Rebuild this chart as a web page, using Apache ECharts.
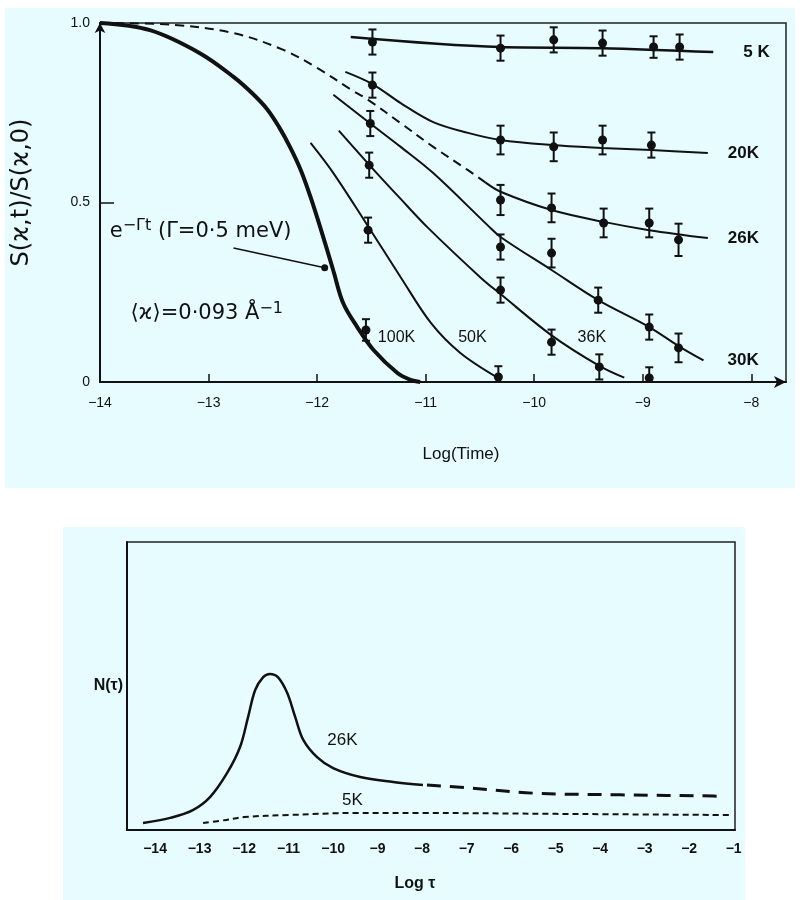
<!DOCTYPE html>
<html>
<head>
<meta charset="utf-8">
<style>
  html, body { margin: 0; background: #fff; }
  #chart { width: 800px; height: 900px; }
</style>
<script src="https://cdn.jsdelivr.net/npm/echarts@6/dist/echarts.min.js"></script>
</head>
<body>
<div id="chart"></div>
<script>
// ---- top panel: S(k,t)/S(k,0) against log(time) ----
const topXTicks = [-14, -13, -12, -11, -10, -9, -8]
const topYTicks = [0, 0.5, 1]

// fitted curves [logt, S]
const fit100K = [[-14, 1.0], [-13.54, 0.98], [-13.08, 0.916], [-12.77, 0.85], [-12.6, 0.805], [-12.46, 0.76],
  [-12.35, 0.71], [-12.25, 0.655], [-12.15, 0.59], [-12.06, 0.515], [-11.97, 0.43], [-11.85, 0.31],
  [-11.76, 0.22], [-11.63, 0.153], [-11.48, 0.089], [-11.26, 0.025], [-11.14, 0.006], [-11.05, 0.0]]
const fit50K = [[-12.06, 0.666], [-11.85, 0.582], [-11.55, 0.443], [-11.23, 0.292], [-10.95, 0.164],
  [-10.68, 0.081], [-10.33, 0.011]]
const fit36K = [[-11.8, 0.7], [-11.52, 0.605], [-11.23, 0.51], [-10.98, 0.43], [-10.49, 0.29],
  [-10.31, 0.245], [-9.84, 0.13], [-9.4, 0.045], [-9.17, 0.012]]
const fit30K = [[-11.85, 0.8], [-11.51, 0.72], [-11.23, 0.655], [-10.93, 0.582], [-10.43, 0.437],
  [-10.31, 0.404], [-9.84, 0.312], [-9.41, 0.228], [-8.94, 0.153], [-8.67, 0.1], [-8.44, 0.06]]
const fit26KDashed = [[-14, 1.0], [-13.33, 0.995], [-12.77, 0.972], [-12.31, 0.925], [-12.0, 0.875],
  [-11.69, 0.815], [-11.53, 0.786], [-11.23, 0.721], [-10.93, 0.655], [-10.61, 0.59], [-10.45, 0.556]]
const fit26K = [[-10.45, 0.556], [-10.31, 0.53], [-9.84, 0.479], [-9.36, 0.446], [-8.94, 0.423], [-8.4, 0.401]]
const fit20K = [[-11.74, 0.864], [-11.49, 0.83], [-11.23, 0.777], [-10.93, 0.724], [-10.61, 0.694],
  [-10.31, 0.674], [-9.84, 0.66], [-9.38, 0.652], [-8.92, 0.646], [-8.4, 0.638]]
const fit5K = [[-11.69, 0.961], [-10.31, 0.933], [-9.38, 0.93], [-8.35, 0.919]]

// measured points [logt, S, error]
const pts100K = [[-11.55, 0.145, 0.03]]
const pts50K = [[-11.53, 0.423, 0.035], [-10.33, 0.014, 0.03]]
const pts36K = [[-11.52, 0.604, 0.035], [-10.31, 0.256, 0.035], [-9.84, 0.111, 0.035], [-9.4, 0.042, 0.035],
  [-8.94, 0.011, 0.03]]
const pts30K = [[-11.51, 0.72, 0.035], [-10.31, 0.376, 0.035], [-9.84, 0.359, 0.04], [-9.41, 0.228, 0.035],
  [-8.94, 0.153, 0.035], [-8.67, 0.095, 0.04]]
const pts26K = [[-10.31, 0.507, 0.042], [-9.84, 0.485, 0.04], [-9.36, 0.443, 0.04], [-8.94, 0.443, 0.04],
  [-8.67, 0.396, 0.045]]
const pts20K = [[-11.49, 0.827, 0.035], [-10.31, 0.674, 0.04], [-9.82, 0.655, 0.04], [-9.37, 0.674, 0.04],
  [-8.92, 0.66, 0.035]]
const pts5K = [[-11.49, 0.947, 0.035], [-10.31, 0.93, 0.035], [-9.82, 0.953, 0.035], [-9.37, 0.944, 0.035],
  [-8.9, 0.933, 0.03], [-8.66, 0.933, 0.035]]

// ---- bottom panel: N(tau) against log tau ----
const botXTicks = [-14, -13, -12, -11, -10, -9, -8, -7, -6, -5, -4, -3, -2, -1]
const dist26K = [[-14.27, 0.024], [-13.66, 0.042], [-13.15, 0.069], [-12.76, 0.115], [-12.38, 0.198],
  [-12.09, 0.288], [-11.91, 0.392], [-11.75, 0.486], [-11.57, 0.531], [-11.42, 0.542], [-11.24, 0.531],
  [-11.03, 0.476], [-10.85, 0.392], [-10.67, 0.313], [-10.36, 0.253], [-10.0, 0.215], [-9.39, 0.184],
  [-8.65, 0.167], [-7.98, 0.156]]
const dist26KExtra = [[-7.89, 0.156], [-6.92, 0.146], [-5.51, 0.128], [-3.55, 0.122], [-1.46, 0.118], [-1.3, 0.117]]
const dist5K = [[-12.92, 0.024], [-12.4, 0.035], [-12.0, 0.045], [-11.0, 0.052], [-9.5, 0.059], [-8.0, 0.059],
  [-5.0, 0.056], [-1.05, 0.052]]

const INK = '#111'
const FONT = 'Liberation Sans'

function curve(data, width, type, axis, extra) {
  return Object.assign({
    type: 'line', data, xAxisIndex: axis, yAxisIndex: axis,
    showSymbol: false, smooth: 0.35, silent: true,
    lineStyle: { color: INK, width, type: type || 'solid' }
  }, extra || {})
}

function points(data) {
  return {
    type: 'custom', data, xAxisIndex: 0, yAxisIndex: 0, clip: true, z: 5,
    renderItem(params, api) {
      const c = api.coord([api.value(0), api.value(1)])
      const hi = api.coord([api.value(0), api.value(1) + api.value(2)])
      const lo = api.coord([api.value(0), api.value(1) - api.value(2)])
      const st = { stroke: INK, lineWidth: 2 }
      return {
        type: 'group',
        children: [
          { type: 'line', shape: { x1: c[0], y1: hi[1], x2: c[0], y2: lo[1] }, style: st },
          { type: 'line', shape: { x1: c[0] - 4, y1: hi[1], x2: c[0] + 4, y2: hi[1] }, style: st },
          { type: 'line', shape: { x1: c[0] - 4, y1: lo[1], x2: c[0] + 4, y2: lo[1] }, style: st },
          { type: 'circle', shape: { cx: c[0], cy: c[1], r: 4.5 }, style: { fill: INK } }
        ]
      }
    }
  }
}

function endLabel(text, dist) {
  return { endLabel: { show: true, formatter: text, distance: dist, color: INK, fontFamily: FONT, fontSize: 17, fontWeight: 'bold' } }
}

function notes(items, axis, size, family) {
  const fam = family || FONT
  return {
    type: 'scatter', xAxisIndex: axis, yAxisIndex: axis, symbolSize: 0, silent: true,
    itemStyle: { color: INK, opacity: 1 },
    data: items,
    label: {
      show: true, position: 'right', distance: 0, color: INK, opacity: 1, fontFamily: fam, fontSize: size,
      formatter: p => p.name,
      rich: {
        sup: { fontSize: size - 5, verticalAlign: 'top', padding: [0, 0, 10, 0], color: INK, fontFamily: fam }
      }
    }
  }
}

const chart = echarts.init(document.getElementById('chart'))
chart.setOption({
  animation: false,
  backgroundColor: '#fff',
  graphic: [
    { type: 'rect', z: -10, shape: { x: 5, y: 8, width: 790, height: 480 }, style: { fill: '#e6fcff' } },
    { type: 'rect', z: -10, shape: { x: 63, y: 527, width: 682, height: 373 }, style: { fill: '#e6fcff' } }
  ],
  grid: [
    { left: 100, top: 23, width: 686, height: 359, show: true, borderColor: '#222', borderWidth: 1.5,
      backgroundColor: 'transparent', outerBoundsMode: 'none' },
    { left: 127, top: 542, width: 608, height: 288, show: true, borderColor: '#222', borderWidth: 1.5,
      backgroundColor: 'transparent', outerBoundsMode: 'none' }
  ],
  xAxis: [
    {
      gridIndex: 0, type: 'value', min: -14, max: -7.68,
      name: 'Log(Time)', nameLocation: 'middle', nameGap: 64,
      nameTextStyle: { color: INK, fontFamily: FONT, fontSize: 17, padding: [0, 0, 0, 36] },
      axisLine: { show: true, symbol: ['none', 'arrow'], symbolSize: [9, 12], lineStyle: { color: INK, width: 2 } },
      axisTick: { show: true, inside: true, length: 8, customValues: topXTicks.slice(1), lineStyle: { color: INK, width: 1.5 } },
      axisLabel: { customValues: topXTicks, color: INK, fontFamily: FONT, fontSize: 14, margin: 14,
        formatter: v => String(v).replace('-', '−') },
      splitLine: { show: false }
    },
    {
      gridIndex: 1, type: 'value', min: -14.63, max: -0.97,
      name: 'Log τ', nameLocation: 'middle', nameGap: 46,
      nameTextStyle: { color: INK, fontFamily: FONT, fontSize: 16, fontWeight: 'bold', padding: [0, 32, 0, 0] },
      axisLine: { show: true, lineStyle: { color: INK, width: 2 } },
      axisTick: { show: false },
      axisLabel: { customValues: botXTicks, color: INK, fontFamily: FONT, fontSize: 14, fontWeight: 'bold', margin: 12,
        formatter: v => String(v).replace('-', '−') },
      splitLine: { show: false }
    }
  ],
  yAxis: [
    {
      gridIndex: 0, type: 'value', min: 0, max: 1,
      name: 'S(ϰ,t)/S(ϰ,0)', nameLocation: 'middle', nameGap: 66, nameRotate: 90,
      nameTextStyle: { color: INK, fontFamily: 'DejaVu Sans', fontSize: 24, padding: [0, 0, 0, 20] },
      axisLine: { show: true, symbol: ['none', 'arrow'], symbolSize: [8, 10], lineStyle: { color: INK, width: 2 } },
      axisTick: { show: true, inside: true, length: 14, customValues: [0.5], lineStyle: { color: INK, width: 1.5 } },
      axisLabel: { customValues: topYTicks, color: INK, fontFamily: FONT, fontSize: 14, margin: 10,
        formatter: v => (v === 0 ? '0' : v.toFixed(1)) },
      splitLine: { show: false }
    },
    {
      gridIndex: 1, type: 'value', min: 0, max: 1,
      name: 'N(τ)', nameLocation: 'middle', nameGap: 4, nameRotate: 0,
      nameTextStyle: { color: INK, fontFamily: FONT, fontSize: 16, fontWeight: 'bold', align: 'right' },
      axisLine: { show: true, lineStyle: { color: INK, width: 2 } },
      axisTick: { show: false },
      axisLabel: { show: false },
      splitLine: { show: false }
    }
  ],
  series: [
    curve(fit100K, 4, 'solid', 0),
    curve(fit50K, 2, 'solid', 0),
    curve(fit36K, 2, 'solid', 0),
    curve(fit30K, 2, 'solid', 0, endLabel('30K', 24)),
    curve(fit26KDashed, 2, [9, 6], 0),
    curve(fit26K, 2, 'solid', 0, endLabel('26K', 20)),
    curve(fit20K, 2, 'solid', 0, endLabel('20K', 20)),
    curve(fit5K, 2.5, 'solid', 0, endLabel('5 K', 30)),
    points(pts100K), points(pts50K), points(pts36K), points(pts30K),
    points(pts26K), points(pts20K), points(pts5K),
    {
      // pointer from the Gamma note to the thick curve
      type: 'line', xAxisIndex: 0, yAxisIndex: 0, silent: true, symbolSize: 7,
      lineStyle: { color: INK, width: 1.5 }, itemStyle: { color: INK },
      data: [{ value: [-12.77, 0.373], symbol: 'none' }, { value: [-11.93, 0.318], symbol: 'circle' }]
    },
    notes([
      { name: '100K', value: [-11.44, 0.125] },
      { name: '50K', value: [-10.7, 0.125] },
      { name: '36K', value: [-9.6, 0.125] }
    ], 0, 16),
    notes([
      { name: 'e{sup|−Γt} (Γ=0·5 meV)', value: [-13.91, 0.42] },
      { name: '⟨ϰ⟩=0·093 Å{sup|−1}', value: [-13.72, 0.19] }
    ], 0, 21, 'DejaVu Sans'),
    curve(dist26K, 2.5, 'solid', 1),
    curve(dist26KExtra, 3, [14, 9], 1),
    curve(dist5K, 2, [6, 4], 1),
    notes([
      { name: '26K', value: [-10.13, 0.31] },
      { name: '5K', value: [-9.8, 0.104] }
    ], 1, 17)
  ]
})
</script>
</body>
</html>
